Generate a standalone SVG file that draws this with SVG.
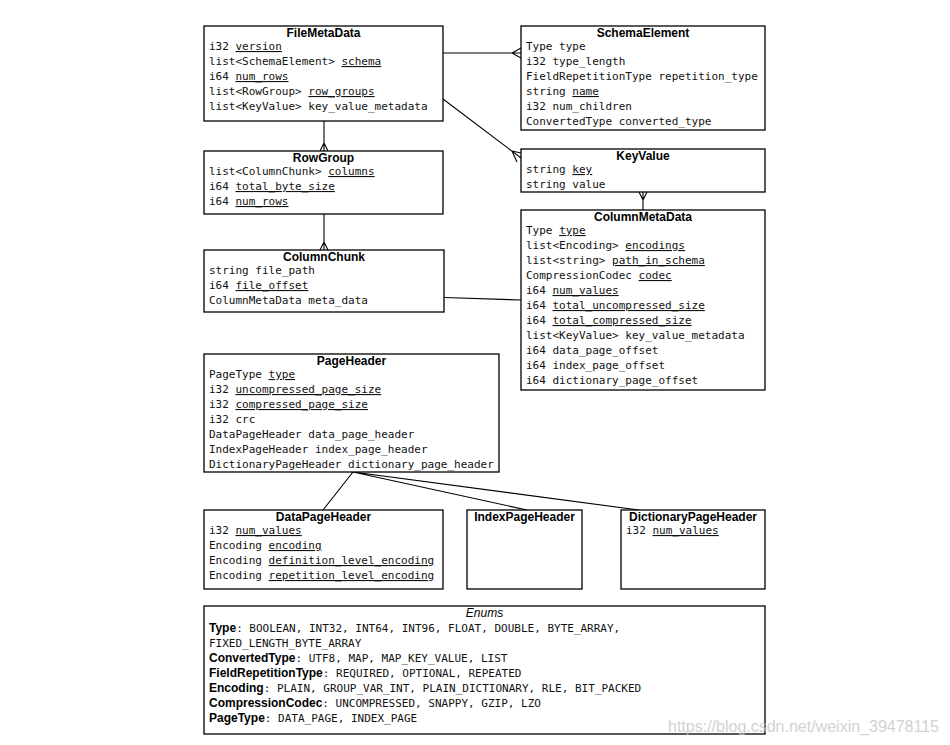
<svg xmlns="http://www.w3.org/2000/svg" width="950" height="745" viewBox="0 0 950 745">
<style>
.bg{fill:#fff}
.box{fill:#fff;stroke:#000;stroke-width:1.3}
.t{font-family:"Liberation Sans",Arial,sans-serif;font-weight:bold;font-size:12px;fill:#000;text-anchor:middle}
.f{font-family:"DejaVu Sans Mono",monospace;font-size:11px;fill:#111}
.u{text-decoration:underline}
.b{font-family:"Liberation Sans",Arial,sans-serif;font-weight:bold;font-size:12px;fill:#000}
.i{font-family:"Liberation Sans",Arial,sans-serif;font-style:italic;font-size:12px;fill:#000;text-anchor:middle}
.c{fill:none;stroke:#000;stroke-width:1.1}
.wm{font-family:"Liberation Sans",Arial,sans-serif;font-size:16px;fill:#c8c8c8;opacity:0.8}
</style>
<rect class="bg" x="0" y="0" width="950" height="745"/>

<g id="connectors">
  <!-- FileMetaData - SchemaElement -->
  <path class="c" d="M443,53 L521,53 M512,53 L521,48 M512,53 L521,58"/>
  <!-- FileMetaData - RowGroup -->
  <path class="c" d="M324,121 L324,151 M324,143 L320,151 M324,143 L328,151"/>
  <!-- RowGroup - ColumnChunk -->
  <path class="c" d="M324,214 L324,250 M324,242 L320,250 M324,242 L328,250"/>
  <!-- FileMetaData - KeyValue -->
  <path class="c" d="M443,99 L521,158 M512,151 L521,153 M512,151 L517,162"/>
  <!-- KeyValue - ColumnMetaData -->
  <path class="c" d="M643,192 L643,210 M643,200 L639,192 M643,200 L647,192"/>
  <!-- ColumnChunk - ColumnMetaData -->
  <path class="c" d="M444,297.5 L521,300"/>
  <!-- PageHeader - sub headers -->
  <path class="c" d="M353,472 L323,510 M353,472 L527,510 M353,472 L639,510"/>
</g>

<g id="FileMetaData">
  <rect class="box" x="204" y="26" width="239" height="95"/>
  <text class="t" x="323.5" y="37">FileMetaData</text>
  <text class="f" x="209" y="50">i32 <tspan class="u">version</tspan></text>
  <text class="f" x="209" y="65">list&lt;SchemaElement&gt; <tspan class="u">schema</tspan></text>
  <text class="f" x="209" y="80">i64 <tspan class="u">num_rows</tspan></text>
  <text class="f" x="209" y="95">list&lt;RowGroup&gt; <tspan class="u">row_groups</tspan></text>
  <text class="f" x="209" y="110">list&lt;KeyValue&gt; key_value_metadata</text>
</g>

<g id="SchemaElement">
  <rect class="box" x="521" y="26" width="244" height="104"/>
  <text class="t" x="643" y="37">SchemaElement</text>
  <text class="f" x="526" y="50">Type type</text>
  <text class="f" x="526" y="65">i32 type_length</text>
  <text class="f" x="526" y="80">FieldRepetitionType repetition_type</text>
  <text class="f" x="526" y="95">string <tspan class="u">name</tspan></text>
  <text class="f" x="526" y="110">i32 num_children</text>
  <text class="f" x="526" y="125">ConvertedType converted_type</text>
</g>

<g id="KeyValue">
  <rect class="box" x="521" y="149" width="244" height="43"/>
  <text class="t" x="643" y="160">KeyValue</text>
  <text class="f" x="526" y="173">string <tspan class="u">key</tspan></text>
  <text class="f" x="526" y="188">string value</text>
</g>

<g id="ColumnMetaData">
  <rect class="box" x="521" y="210" width="244" height="180"/>
  <text class="t" x="643" y="221">ColumnMetaData</text>
  <text class="f" x="526" y="234">Type <tspan class="u">type</tspan></text>
  <text class="f" x="526" y="249">list&lt;Encoding&gt; <tspan class="u">encodings</tspan></text>
  <text class="f" x="526" y="264">list&lt;string&gt; <tspan class="u">path_in_schema</tspan></text>
  <text class="f" x="526" y="279">CompressionCodec <tspan class="u">codec</tspan></text>
  <text class="f" x="526" y="294">i64 <tspan class="u">num_values</tspan></text>
  <text class="f" x="526" y="309">i64 <tspan class="u">total_uncompressed_size</tspan></text>
  <text class="f" x="526" y="324">i64 <tspan class="u">total_compressed_size</tspan></text>
  <text class="f" x="526" y="339">list&lt;KeyValue&gt; key_value_metadata</text>
  <text class="f" x="526" y="354">i64 data_page_offset</text>
  <text class="f" x="526" y="369">i64 index_page_offset</text>
  <text class="f" x="526" y="384">i64 dictionary_page_offset</text>
</g>

<g id="RowGroup">
  <rect class="box" x="204" y="151" width="239" height="63"/>
  <text class="t" x="323.5" y="162">RowGroup</text>
  <text class="f" x="209" y="175">list&lt;ColumnChunk&gt; <tspan class="u">columns</tspan></text>
  <text class="f" x="209" y="190">i64 <tspan class="u">total_byte_size</tspan></text>
  <text class="f" x="209" y="205">i64 <tspan class="u">num_rows</tspan></text>
</g>

<g id="ColumnChunk">
  <rect class="box" x="204" y="250" width="240" height="62"/>
  <text class="t" x="324" y="261">ColumnChunk</text>
  <text class="f" x="209" y="274">string file_path</text>
  <text class="f" x="209" y="289">i64 <tspan class="u">file_offset</tspan></text>
  <text class="f" x="209" y="304">ColumnMetaData meta_data</text>
</g>

<g id="PageHeader">
  <rect class="box" x="204" y="354" width="295" height="118"/>
  <text class="t" x="351.5" y="365">PageHeader</text>
  <text class="f" x="209" y="378">PageType <tspan class="u">type</tspan></text>
  <text class="f" x="209" y="393">i32 <tspan class="u">uncompressed_page_size</tspan></text>
  <text class="f" x="209" y="408">i32 <tspan class="u">compressed_page_size</tspan></text>
  <text class="f" x="209" y="423">i32 crc</text>
  <text class="f" x="209" y="438">DataPageHeader data_page_header</text>
  <text class="f" x="209" y="453">IndexPageHeader index_page_header</text>
  <text class="f" x="209" y="468">DictionaryPageHeader dictionary_page_header</text>
</g>

<g id="DataPageHeader">
  <rect class="box" x="204" y="510" width="239" height="79"/>
  <text class="t" x="323.5" y="521">DataPageHeader</text>
  <text class="f" x="209" y="534">i32 <tspan class="u">num_values</tspan></text>
  <text class="f" x="209" y="549">Encoding <tspan class="u">encoding</tspan></text>
  <text class="f" x="209" y="564">Encoding <tspan class="u">definition_level_encoding</tspan></text>
  <text class="f" x="209" y="579">Encoding <tspan class="u">repetition_level_encoding</tspan></text>
</g>

<g id="IndexPageHeader">
  <rect class="box" x="467" y="510" width="115" height="79"/>
  <text class="t" x="524.5" y="521">IndexPageHeader</text>
</g>

<g id="DictionaryPageHeader">
  <rect class="box" x="621" y="510" width="144" height="79"/>
  <text class="t" x="693" y="521">DictionaryPageHeader</text>
  <text class="f" x="626" y="534">i32 <tspan class="u">num_values</tspan></text>
</g>

<g id="Enums">
  <rect class="box" x="204" y="606" width="561" height="128"/>
  <text class="i" x="484.5" y="617">Enums</text>
  <text x="209" y="632"><tspan class="b">Type</tspan><tspan class="f">: BOOLEAN, INT32, INT64, INT96, FLOAT, DOUBLE, BYTE_ARRAY,</tspan></text>
  <text class="f" x="209" y="647">FIXED_LENGTH_BYTE_ARRAY</text>
  <text x="209" y="662"><tspan class="b">ConvertedType</tspan><tspan class="f">: UTF8, MAP, MAP_KEY_VALUE, LIST</tspan></text>
  <text x="209" y="677"><tspan class="b">FieldRepetitionType</tspan><tspan class="f">: REQUIRED, OPTIONAL, REPEATED</tspan></text>
  <text x="209" y="692"><tspan class="b">Encoding</tspan><tspan class="f">: PLAIN, GROUP_VAR_INT, PLAIN_DICTIONARY, RLE, BIT_PACKED</tspan></text>
  <text x="209" y="707"><tspan class="b">CompressionCodec</tspan><tspan class="f">: UNCOMPRESSED, SNAPPY, GZIP, LZO</tspan></text>
  <text x="209" y="722"><tspan class="b">PageType</tspan><tspan class="f">: DATA_PAGE, INDEX_PAGE</tspan></text>
</g>

<text class="wm" x="668" y="732">https://blog.csdn.net/weixin_39478115</text>
</svg>
